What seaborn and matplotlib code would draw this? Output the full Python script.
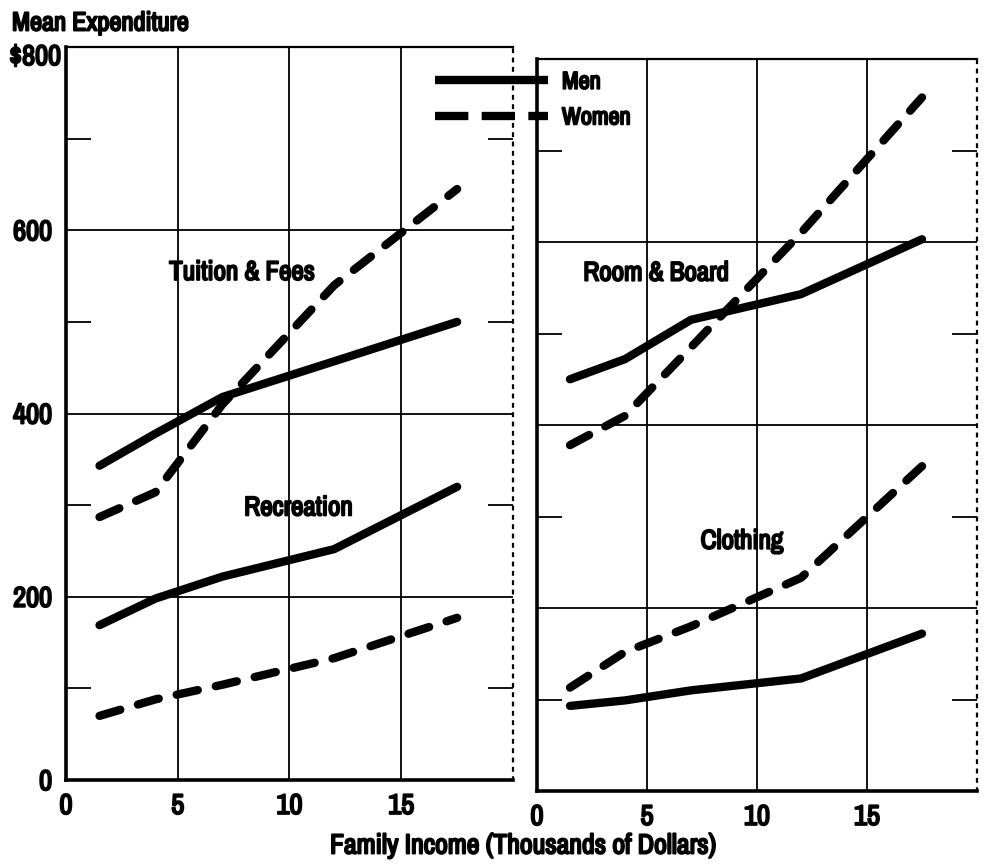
import matplotlib
matplotlib.use("Agg")
import matplotlib.pyplot as plt
from matplotlib import font_manager as fm
from matplotlib import patheffects as pe
from matplotlib.lines import Line2D
from matplotlib.transforms import ScaledTranslation
import seaborn as sns
import pandas as pd

# ---------------- data ----------------
income = [1.5, 4, 7, 12, 17.5]
tuition_men = [343, 378, 418, 457, 500]
tuition_women = [287, 314, 410, 540, 645]
recreation_men = [169, 198, 222, 252, 320]
recreation_women = [70, 88, 104, 133, 177]
room_men = [450, 472, 515, 543, 603]
room_women = [378, 410, 485, 610, 758]
clothing_men = [93, 99, 110, 123, 172]
clothing_women = [113, 152, 180, 233, 355]

x_ticks = [0, 5, 10, 15]
x_ticklabels = ["0", "5", "10", "15"]
y_ticks = [0, 200, 400, 600, 800]
y_ticklabels = ["0", "200", "400", "600", "$800"]
sexes = ["Men", "Women"]

series = {
    ("left", "Tuition & Fees", "Men"): tuition_men,
    ("left", "Tuition & Fees", "Women"): tuition_women,
    ("left", "Recreation", "Men"): recreation_men,
    ("left", "Recreation", "Women"): recreation_women,
    ("right", "Room & Board", "Men"): room_men,
    ("right", "Room & Board", "Women"): room_women,
    ("right", "Clothing", "Men"): clothing_men,
    ("right", "Clothing", "Women"): clothing_women,
}
rows = []
for (panel, cat, sex), vals in series.items():
    for xi, yi in zip(income, vals):
        rows.append(dict(panel=panel, category=cat, sex=sex, income=xi, value=yi))
df = pd.DataFrame(rows)

# ---------------- style ----------------
sns.set_style("white")
ttf = fm.fontManager.ttflist
narrow = [f for f in ttf if "Narrow" in f.name]
cond_named = [f for f in ttf if "Condensed" in f.name]
cond_dejavu = [f for f in ttf if f.name == "DejaVu Sans" and "ondensed" in f.fname]
stretch = "normal"
if narrow:
    FAM = [narrow[0].name, "DejaVu Sans"]
    k = 1.0
elif cond_named:
    FAM = [cond_named[0].name, "DejaVu Sans"]
    k = 0.85
elif cond_dejavu:
    FAM = ["DejaVu Sans"]
    stretch = "condensed"
    k = 0.8
else:
    FAM = ["DejaVu Sans"]
    k = 0.72
plt.rcParams["font.family"] = FAM
plt.rcParams["font.stretch"] = stretch
plt.rcParams["font.weight"] = "bold"
for key in ["text.color", "axes.labelcolor", "xtick.color", "ytick.color"]:
    plt.rcParams[key] = "black"

HEAVY = [pe.withStroke(linewidth=1.4, foreground="black")]

W, H = 987, 866
fig = plt.figure(figsize=(W / 100, H / 100), dpi=100)
fig.patch.set_facecolor("white")


def px_rect(l, r, b, t):
    return [l / W, (H - b) / H, (r - l) / W, (b - t) / H]


ax_l = fig.add_axes(px_rect(66, 513, 780, 47))
ax_r = fig.add_axes(px_rect(537, 977, 791, 59))

dash_map = {"Men": "", "Women": (2.6, 2.2)}
LW = 6

for ax, panel in [(ax_l, "left"), (ax_r, "right")]:
    sub = df[df.panel == panel]
    sns.lineplot(data=sub, x="income", y="value", style="sex", units="category",
                 estimator=None, color="black", dashes=dash_map, style_order=sexes,
                 linewidth=LW, legend=False, ax=ax,
                 solid_capstyle="round", dash_capstyle="round",
                 solid_joinstyle="round", dash_joinstyle="round", zorder=5)
    ax.set_xlim(0, 20)
    ax.set_ylim(0, 800)
    ax.set_xlabel("")
    ax.set_ylabel("")
    ax.set_xticks(x_ticks)
    ax.set_xticklabels(x_ticklabels)
    ax.set_yticks(y_ticks)
    ax.set_yticks([100, 300, 500, 700], minor=True)
    ax.tick_params(axis="both", which="major", length=0, labelsize=20.5 * k, pad=10,
                   labelcolor="black")
    ax.tick_params(axis="y", which="minor", direction="in", length=18, width=1.3,
                   left=True, right=True, color="black")
    ax.grid(True, which="major", color="black", linewidth=1.3)
    ax.set_axisbelow(True)
    for s in ["left", "bottom"]:
        ax.spines[s].set_linewidth(2.6)
        ax.spines[s].set_color("black")
    ax.spines["top"].set_linewidth(1.6)
    ax.spines["top"].set_color("black")
    ax.spines["right"].set_linewidth(1.6)
    ax.spines["right"].set_linestyle((0, (1.2, 3)))
    ax.spines["right"].set_color("black")

ax_l.set_yticklabels(y_ticklabels)
ax_l.tick_params(axis="y", which="major", pad=10)
ax_r.set_yticklabels([])
# the "$800" label sits a little lower and further right in the original
top_lab = ax_l.yaxis.get_majorticklabels()[-1]
top_lab.set_transform(top_lab.get_transform() +
                      ScaledTranslation(0.09, -0.08, fig.dpi_scale_trans))

for ax in (ax_l, ax_r):
    for lab in ax.get_xticklabels() + ax.get_yticklabels():
        lab.set_fontweight("bold")
        lab.set_path_effects(HEAVY)

# category labels
lab_kw = dict(ha="center", va="center", fontsize=19.5 * k, fontweight="bold", zorder=6,
              path_effects=HEAVY)
ax_l.text(7.87, 554, "Tuition & Fees", **lab_kw)
ax_l.text(10.4, 297, "Recreation", **lab_kw)
ax_r.text(5.41, 566, "Room & Board", **lab_kw)
ax_r.text(9.32, 273, "Clothing", **lab_kw)

# titles
fig.text(12 / W, 1 - 23 / H, "Mean Expenditure", ha="left", va="center",
         fontsize=19 * k, fontweight="bold", path_effects=HEAVY)
fig.supxlabel("Family Income (Thousands of Dollars)", x=523 / W, y=1 - 846 / H,
              va="center", fontsize=20 * k, fontweight="bold", path_effects=HEAVY)

# legend
lfs = 17.5 * k
lfs_px = lfs * 100 / 72
handles = [Line2D([], [], color="black", lw=LW, solid_capstyle="butt"),
           Line2D([], [], color="black", lw=LW, dashes=(4.0, 1.6), dash_capstyle="butt")]
leg = fig.legend(handles, sexes, loc="center left", bbox_to_anchor=(435 / W, 1 - 100 / H),
                 frameon=False, fontsize=lfs, handlelength=113 / lfs_px,
                 handletextpad=14 / lfs_px, labelspacing=(36 - 0.88 * lfs_px) / lfs_px,
                 borderpad=0, borderaxespad=0)
for t in leg.get_texts():
    t.set_fontweight("bold")
    t.set_color("black")
    t.set_path_effects(HEAVY)

fig.savefig("out.png", dpi=100, facecolor="white")
